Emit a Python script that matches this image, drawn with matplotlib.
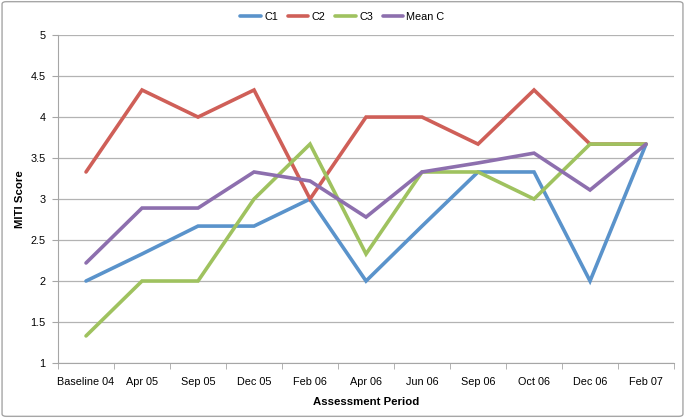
import numpy as np
import matplotlib
matplotlib.use("Agg")
import matplotlib.pyplot as plt
from matplotlib.patches import FancyBboxPatch

periods = ["Baseline 04", "Apr 05", "Sep 05", "Dec 05", "Feb 06", "Apr 06",
           "Jun 06", "Sep 06", "Oct 06", "Dec 06", "Feb 07"]
c1 = [2.0, 2.33, 2.67, 2.67, 3.0, 2.0, 2.67, 3.33, 3.33, 2.0, 3.67]
c2 = [3.33, 4.33, 4.0, 4.33, 3.0, 4.0, 4.0, 3.67, 4.33, 3.67, 3.67]
c3 = [1.33, 2.0, 2.0, 3.0, 3.67, 2.33, 3.33, 3.33, 3.0, 3.67, 3.67]
mean_c = [2.22, 2.89, 2.89, 3.33, 3.22, 2.78, 3.33, 3.44, 3.56, 3.11, 3.67]

series = [("C1", c1, "#5a93cb"), ("C2", c2, "#cf5f58"),
          ("C3", c3, "#9fc25f"), ("Mean C", mean_c, "#8d6fae")]

plt.rcParams["font.family"] = ["Liberation Sans", "DejaVu Sans"]

fig = plt.figure(figsize=(6.85, 4.18), dpi=100)
ax = fig.add_axes([0.0847, 0.1316, 0.8993, 0.7845])

# rounded outer border like the Excel chart area
fig.patches.append(FancyBboxPatch((0.003, 0.004), 0.994, 0.992,
                                  boxstyle="round,pad=0,rounding_size=0.006",
                                  transform=fig.transFigure, fill=False,
                                  edgecolor="#a6a6a6", linewidth=1.0))

x = np.arange(len(periods))
for name, vals, col in series:
    ax.plot(x, vals, color=col, linewidth=2.6, label=name,
            solid_joinstyle="miter", solid_capstyle="round")

ax.set_xlim(-0.5, len(periods) - 0.5)
ax.set_ylim(1, 5)
ax.set_yticks(np.arange(1, 5.01, 0.5))
ax.set_yticklabels(["1", "1.5", "2", "2.5", "3", "3.5", "4", "4.5", "5"])
ax.yaxis.grid(True, color="#b3b3b3", linewidth=0.9)
ax.set_axisbelow(True)

ax.set_xticks(x)
ax.set_xticklabels(periods)
ax.set_xticks(np.arange(-0.5, len(periods)), minor=True)
ax.tick_params(axis="x", which="major", length=0, pad=10, labelsize=7.8)
ax.tick_params(axis="x", which="minor", length=4, color="#a6a6a6")
ax.tick_params(axis="y", length=4, color="#a6a6a6", labelsize=7.8, pad=5)

for side in ("top", "right"):
    ax.spines[side].set_visible(False)
ax.spines["left"].set_color("#a6a6a6")
ax.spines["bottom"].set_color("#a6a6a6")

ax.set_xlabel("Assessment Period", fontweight="bold", fontsize=8.2, labelpad=7)
ax.set_ylabel("MITI Score", fontweight="bold", fontsize=8.2, labelpad=4)

fig.legend(loc="upper center", bbox_to_anchor=(0.5, 0.995), ncol=4, frameon=False,
           fontsize=7.8, handlelength=1.9, handletextpad=0.3, columnspacing=0.9)

fig.savefig("out.png", dpi=100)
